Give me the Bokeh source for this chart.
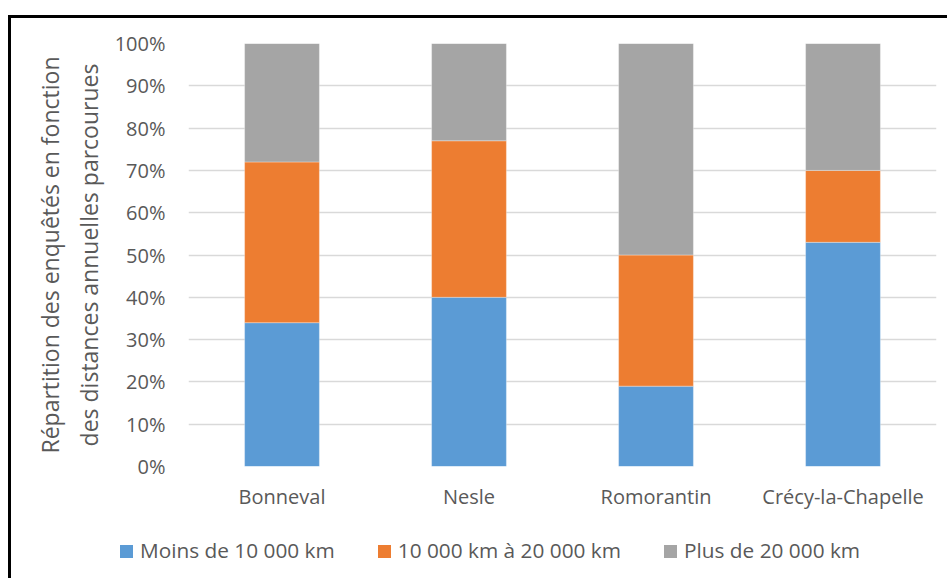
from bokeh.plotting import figure
from bokeh.models import (ColumnDataSource, NumeralTickFormatter, FixedTicker,
                          Range1d, FactorRange, Div, Spacer)
from bokeh.layouts import column, row
from bokeh.embed import file_html
from bokeh.resources import INLINE

categories = ["Bonneval", "Nesle", "Romorantin", "Crécy-la-Chapelle"]
moins_10000 = [34, 40, 19, 53]
de_10000_a_20000 = [38, 37, 31, 17]
plus_20000 = [28, 23, 50, 30]
series_names = ["Moins de 10 000 km", "10 000 km à 20 000 km", "Plus de 20 000 km"]
colors = ["#5B9BD5", "#ED7D31", "#A5A5A5"]
y_ticks = [i / 10 for i in range(11)]

source = ColumnDataSource(dict(
    cat=categories,
    s1=[v / 100 for v in moins_10000],
    s2=[v / 100 for v in de_10000_a_20000],
    s3=[v / 100 for v in plus_20000],
))

FONT = "Open Sans"
TXT = "#595959"

# main chart
p = figure(width=936, height=500, x_range=FactorRange(*categories, range_padding=0),
           y_range=Range1d(0, 1), output_backend="svg", toolbar_location=None,
           min_border_left=177, min_border_right=11, min_border_top=25, min_border_bottom=52)
p.x_range.factor_padding = 0

p.vbar_stack(["s1", "s2", "s3"], x="cat", width=0.4, source=source,
             color=colors, line_color="white", line_alpha=0.4, line_width=0.8)

p.outline_line_color = None
p.xgrid.grid_line_color = None
p.ygrid.grid_line_color = "#D9D9D9"
p.ygrid.grid_line_width = 1.5
p.yaxis.ticker = FixedTicker(ticks=y_ticks)
p.yaxis.formatter = NumeralTickFormatter(format="0%")
for ax in (p.xaxis[0], p.yaxis[0]):
    ax.axis_line_color = None
    ax.major_tick_line_color = None
    ax.minor_tick_line_color = None
    ax.major_label_text_font = FONT
    ax.major_label_text_font_size = "20px"
    ax.major_label_text_color = TXT
p.yaxis.major_label_standoff = 17
p.xaxis.major_label_standoff = 10
p.yaxis.axis_label = "Répartition des enquêtés en fonction\ndes distances annuelles parcourues"
p.yaxis.axis_label_text_font = FONT
p.yaxis.axis_label_text_font_size = "23px"
p.yaxis.axis_label_text_font_style = "normal"
p.yaxis.axis_label_text_color = TXT
p.yaxis.axis_label_standoff = 7

# legend strip (HTML)
items_html = "".join(
    f'<span style="display:inline-block;width:13px;height:13px;background:{c};margin-right:7px;flex:none;"></span>'
    f'<span style="margin-right:43px;flex:none;">{n}</span>'
    for n, c in zip(series_names, colors)
)
legend_div = Div(
    text=(f'<div style="display:flex;align-items:center;height:28px;margin-top:19px;'
          f'padding-left:109px;font-family:\'Open Sans\';font-size:20.8px;color:{TXT};'
          f'white-space:nowrap;">{items_html}</div>'),
    width=936, height=60, margin=0)

top_line = Div(width=939, height=3, margin=0, styles={"background-color": "black"})
left_line = Div(width=3, height=560, margin=0, styles={"background-color": "black"})
layout = column(Spacer(width=947, height=15),
                row(Spacer(width=8, height=563),
                    column(top_line, row(left_line, column(p, legend_div)))))

open("out.html", "w").write(file_html(layout, INLINE))
